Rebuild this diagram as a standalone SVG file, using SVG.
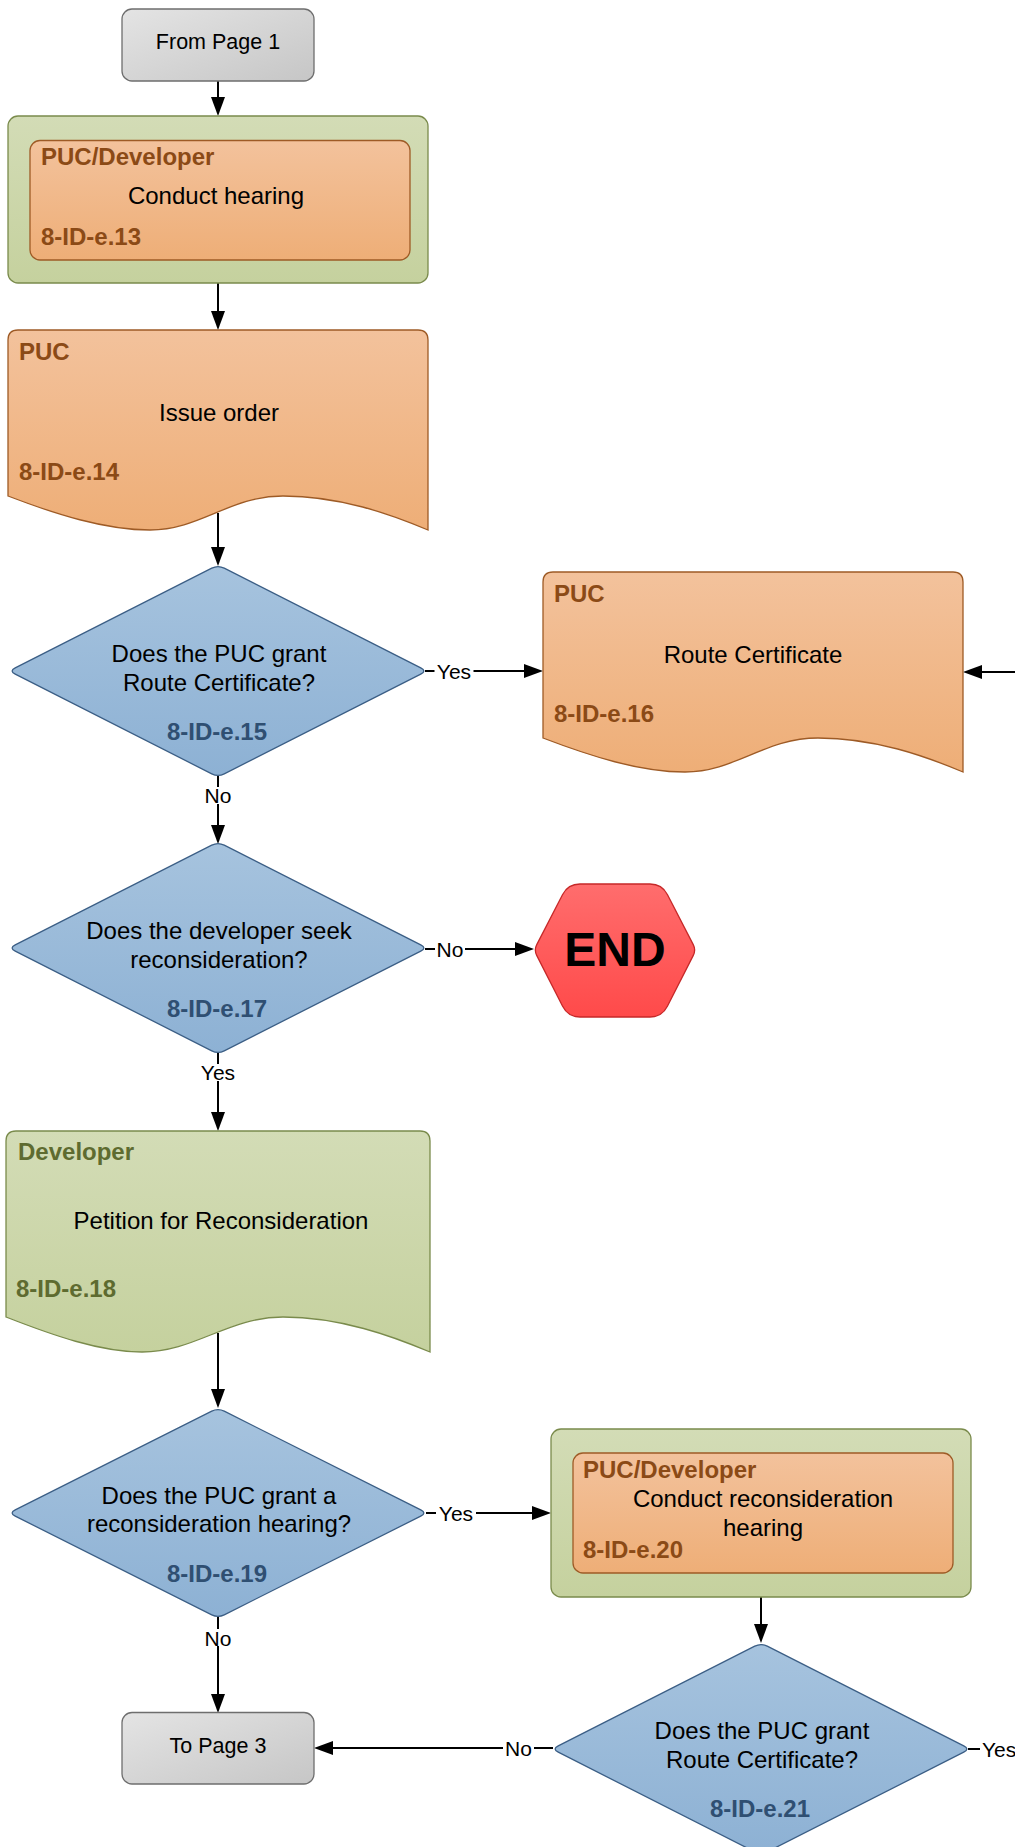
<svg xmlns="http://www.w3.org/2000/svg" xmlns:xlink="http://www.w3.org/1999/xlink" width="1015" height="1847" viewBox="0 0 1015 1847">
<style>
  text { font-family: "Liberation Sans", Arial, sans-serif; }
  .body { font-size: 24px; fill: #000; text-anchor: middle; }
  .lblO { font-size: 24px; font-weight: bold; fill: #8b4a16; }
  .lblG { font-size: 24px; font-weight: bold; fill: #5e6b30; }
  .idB { font-size: 24px; font-weight: bold; fill: #2f4f72; text-anchor: middle; }
  .term { font-size: 21.5px; fill: #000; text-anchor: middle; }
  .end { font-size: 48px; font-weight: bold; fill: #000; text-anchor: middle; }
  .cl { font-size: 21px; fill: #000; text-anchor: middle; }
  .gray { fill: url(#gGray); stroke: #6e6e6e; stroke-width: 1.3; }
  .green { fill: url(#gGreen); stroke: #7a8b4c; stroke-width: 1.3; }
  .orange { fill: url(#gOrange); stroke: #9e5b26; stroke-width: 1.3; }
  .dia { fill: url(#gBlue); stroke: #3b5e85; stroke-width: 1.3; }
  .red { fill: url(#gRed); stroke: #c62828; stroke-width: 1.3; }
  .conn { fill: none; stroke: #000; stroke-width: 2; }
  .arr { marker-end: url(#ah); }
  .lbg { fill: #fff; }
</style>
<defs>
  <linearGradient id="gGray" x1="0" y1="0" x2="1" y2="1">
    <stop offset="0" stop-color="#e4e4e4"/>
    <stop offset="1" stop-color="#c6c6c6"/>
  </linearGradient>
  <linearGradient id="gGreen" x1="0" y1="0" x2="0" y2="1">
    <stop offset="0" stop-color="#d3dcb6"/>
    <stop offset="1" stop-color="#c5d19e"/>
  </linearGradient>
  <linearGradient id="gOrange" x1="0" y1="0" x2="0" y2="1">
    <stop offset="0" stop-color="#f3c29c"/>
    <stop offset="1" stop-color="#eeae77"/>
  </linearGradient>
  <linearGradient id="gBlue" x1="0" y1="0" x2="0" y2="1">
    <stop offset="0" stop-color="#a6c3de"/>
    <stop offset="1" stop-color="#8db1d4"/>
  </linearGradient>
  <linearGradient id="gRed" x1="0" y1="0" x2="0" y2="1">
    <stop offset="0" stop-color="#ff6d6d"/>
    <stop offset="1" stop-color="#ff4a4a"/>
  </linearGradient>
  <marker id="ah" markerUnits="userSpaceOnUse" markerWidth="19" markerHeight="14" refX="16" refY="7" orient="auto">
    <path d="M0,0 L19,7 L0,14 Z" fill="#000"/>
  </marker>
  <path id="dia" d="M-6.24,-102.83 Q0,-106 6.24,-102.83 L202.76,-3.17 Q209,0 202.76,3.17 L6.24,102.83 Q0,106 -6.24,102.83 L-202.76,3.17 Q-209,0 -202.76,-3.17 Z"/>
</defs>

<g id="connectors">
  <path class="conn arr" d="M218,81 L218,113"/>
  <path class="conn arr" d="M218,283 L218,327"/>
  <path class="conn arr" d="M218,513 L218,563"/>
  <path class="conn arr" d="M425,671 L540,671"/>
  <path class="conn arr" d="M218,776 L218,841"/>
  <path class="conn arr" d="M425,949 L531,949"/>
  <path class="conn arr" d="M218,1053 L218,1128"/>
  <path class="conn arr" d="M218,1333 L218,1405"/>
  <path class="conn arr" d="M426,1513 L548,1513"/>
  <path class="conn arr" d="M218,1617 L218,1710"/>
  <path class="conn arr" d="M761,1597 L761,1640"/>
  <path class="conn arr" d="M553,1748 L317,1748"/>
  <path class="conn" d="M968,1749 L1020,1749"/>
  <path class="conn arr" d="M1020,672 L966,672"/>
  <g id="labels">
    <rect class="lbg" x="434.5" y="662" width="39" height="18"/>
    <text class="cl" x="454" y="678.5">Yes</text>
    <rect class="lbg" x="203" y="787" width="30" height="17"/>
    <text class="cl" x="218" y="803">No</text>
    <rect class="lbg" x="435" y="940" width="30" height="18"/>
    <text class="cl" x="450" y="956.5">No</text>
    <rect class="lbg" x="198" y="1064" width="40" height="17"/>
    <text class="cl" x="218" y="1080">Yes</text>
    <rect class="lbg" x="436" y="1504" width="40" height="18"/>
    <text class="cl" x="456" y="1520.5">Yes</text>
    <rect class="lbg" x="203" y="1629" width="30" height="17"/>
    <text class="cl" x="218" y="1646">No</text>
    <rect class="lbg" x="503" y="1739" width="31" height="18"/>
    <text class="cl" x="518.5" y="1755.5">No</text>
    <rect class="lbg" x="980" y="1740" width="40" height="18"/>
    <text class="cl" x="982" y="1756.5" style="text-anchor:start">Yes</text>
  </g>
</g>

<g id="from-page-1">
  <rect class="gray" x="122" y="9" width="192" height="72" rx="10"/>
  <text class="term" x="218" y="49">From Page 1</text>
</g>

<g id="e13">
  <rect class="green" x="8" y="116" width="420" height="167" rx="10"/>
  <rect class="orange" x="30" y="140.5" width="380" height="119.5" rx="10"/>
  <text class="lblO" x="41" y="165">PUC/Developer</text>
  <text class="body" x="216" y="204">Conduct hearing</text>
  <text class="lblO" x="41" y="245">8-ID-e.13</text>
</g>

<g id="e14">
  <path class="orange" d="M8,340 Q8,330 18,330 L418,330 Q428,330 428,340 L428,530 C390,514 340,496 283,496 C230,496 200,530 150,530 C105,530 55,514 8,496 Z"/>
  <text class="lblO" x="19" y="360">PUC</text>
  <text class="body" x="219" y="421">Issue order</text>
  <text class="lblO" x="19" y="480">8-ID-e.14</text>
</g>

<g id="e15">
  <use xlink:href="#dia" href="#dia" class="dia" transform="translate(218,671)"/>
  <text class="body" x="219" y="662">Does the PUC grant</text>
  <text class="body" x="219" y="690.5">Route Certificate?</text>
  <text class="idB" x="217" y="739.5">8-ID-e.15</text>
</g>

<g id="e16">
  <path class="orange" d="M543,582 Q543,572 553,572 L953,572 Q963,572 963,582 L963,772 C925,756 875,738 818,738 C765,738 735,772 685,772 C640,772 590,756 543,738 Z"/>
  <text class="lblO" x="554" y="602">PUC</text>
  <text class="body" x="753" y="663">Route Certificate</text>
  <text class="lblO" x="554" y="722">8-ID-e.16</text>
</g>

<g id="e17">
  <use xlink:href="#dia" href="#dia" class="dia" transform="translate(218,948)"/>
  <text class="body" x="219" y="939">Does the developer seek</text>
  <text class="body" x="219" y="968">reconsideration?</text>
  <text class="idB" x="217" y="1016.5">8-ID-e.17</text>
</g>

<g id="end">
  <path class="red" d="M580,884 L650,884 Q662,884 667.5,894.7 L693.25,944.67 Q696,950 693.3,955.35 L667.4,1006.3 Q662,1017 650,1017 L580,1017 Q568,1017 562.6,1006.3 L536.7,955.35 Q534,950 536.75,944.67 L562.5,894.7 Q568,884 580,884 Z"/>
  <text class="end" x="615" y="966">END</text>
</g>

<g id="e18">
  <path class="green" d="M6,1141 Q6,1131 16,1131 L420,1131 Q430,1131 430,1141 L430,1352 C392,1336 340,1317 283,1317 C228,1317 195,1352 142,1352 C100,1352 52,1335 6,1317 Z"/>
  <text class="lblG" x="18" y="1159.5">Developer</text>
  <text class="body" x="221" y="1228.5">Petition for Reconsideration</text>
  <text class="lblG" x="16" y="1296.5">8-ID-e.18</text>
</g>

<g id="e19">
  <use xlink:href="#dia" href="#dia" class="dia" transform="translate(218,1513) scale(1,0.99)"/>
  <text class="body" x="219" y="1503.5">Does the PUC grant a</text>
  <text class="body" x="219" y="1531.5">reconsideration hearing?</text>
  <text class="idB" x="217" y="1581.5">8-ID-e.19</text>
</g>

<g id="e20">
  <rect class="green" x="551" y="1429" width="420" height="168" rx="10"/>
  <rect class="orange" x="573" y="1453" width="380" height="120" rx="10"/>
  <text class="lblO" x="583" y="1478">PUC/Developer</text>
  <text class="body" x="763" y="1507">Conduct reconsideration</text>
  <text class="body" x="763" y="1536">hearing</text>
  <text class="lblO" x="583" y="1558">8-ID-e.20</text>
</g>

<g id="e21">
  <use xlink:href="#dia" href="#dia" class="dia" transform="translate(761,1749)"/>
  <text class="body" x="762" y="1739">Does the PUC grant</text>
  <text class="body" x="762" y="1768">Route Certificate?</text>
  <text class="idB" x="760" y="1817">8-ID-e.21</text>
</g>

<g id="to-page-3">
  <rect class="gray" x="122" y="1712.5" width="192" height="71.5" rx="10"/>
  <text class="term" x="218" y="1753">To Page 3</text>
</g>
</svg>
